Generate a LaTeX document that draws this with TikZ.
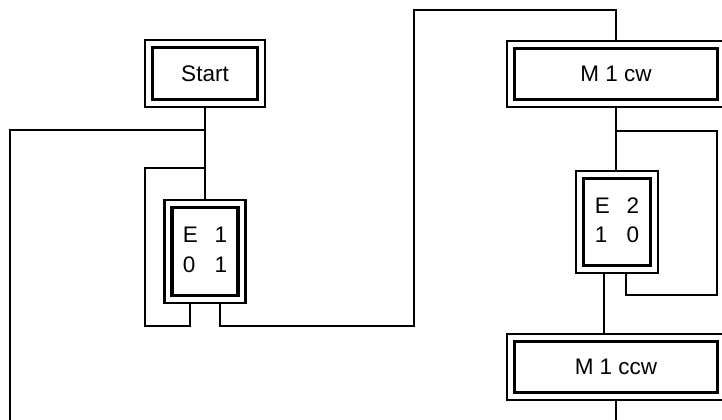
\documentclass[tikz,border=0pt]{standalone}
\usepackage{fontspec}
\setmainfont{Liberation Sans}
\usetikzlibrary{calc}

\begin{document}
\begin{tikzpicture}[
  x=0.025cm, y=-0.025cm,
  every node/.style={font=\fontsize{16}{21}\selectfont},
  stepbox/.style={draw, line width=1.6pt, inner sep=0pt, align=center,
    path picture={\draw[line width=2.4pt]
      ([shift={(0.19cm,0.19cm)}]path picture bounding box.south west) rectangle
      ([shift={(-0.19cm,-0.19cm)}]path picture bounding box.north east);}},
  wire/.style={line width=1.5pt},
]
  \useasboundingbox (0,0) rectangle (722,420);

  \node[stepbox, minimum width=3cm, minimum height=1.675cm] (start) at (205,73.5) {Start};
  \node[stepbox, minimum width=2.025cm, minimum height=2.575cm] (e1) at (205,251.5)
    {\begin{tabular}{@{}l@{\hspace{0.75em}}l@{}}E & 1\\0 & 1\end{tabular}};
  \node[stepbox, minimum width=5.45cm, minimum height=1.65cm] (m1cw) at (616,74) {M 1 cw};
  \node[stepbox, minimum width=2.05cm, minimum height=2.55cm] (e2) at (617,222)
    {\begin{tabular}{@{}l@{\hspace{0.75em}}l@{}}E & 2\\1 & 0\end{tabular}};
  \node[stepbox, minimum width=5.45cm, minimum height=1.65cm] (m1ccw) at (616,367) {M 1 ccw};

  \coordinate (j1) at (205,130);
  \coordinate (j2) at (205,168);
  \coordinate (j3) at (616,131);
  \coordinate (loopin) at (10,420);
  \coordinate (loopout) at (616,420);
  \coordinate (e1l) at ($(e1.south)+(-15,0)$);
  \coordinate (e1r) at ($(e1.south)+(15,0)$);
  \coordinate (e2l) at ($(e2.south)+(-13,0)$);
  \coordinate (e2r) at ($(e2.south)+(9,0)$);

  \draw[wire] (start.south) -- (start.south |- e1.north);
  \draw[wire] (j1) -| (loopin);
  \draw[wire] (j2) -| (145,326) -| (e1l);
  \draw[wire] (e1r) |- (414,326) |- (616,10) -- (m1cw.north);
  \draw[wire] (m1cw.south) -- (m1cw.south |- e2.north);
  \draw[wire] (j3) -| (717,295) -| (e2r);
  \draw[wire] (e2l) -- (e2l |- m1ccw.north);
  \draw[wire] (m1ccw.south) -- (loopout);
\end{tikzpicture}
\end{document}
